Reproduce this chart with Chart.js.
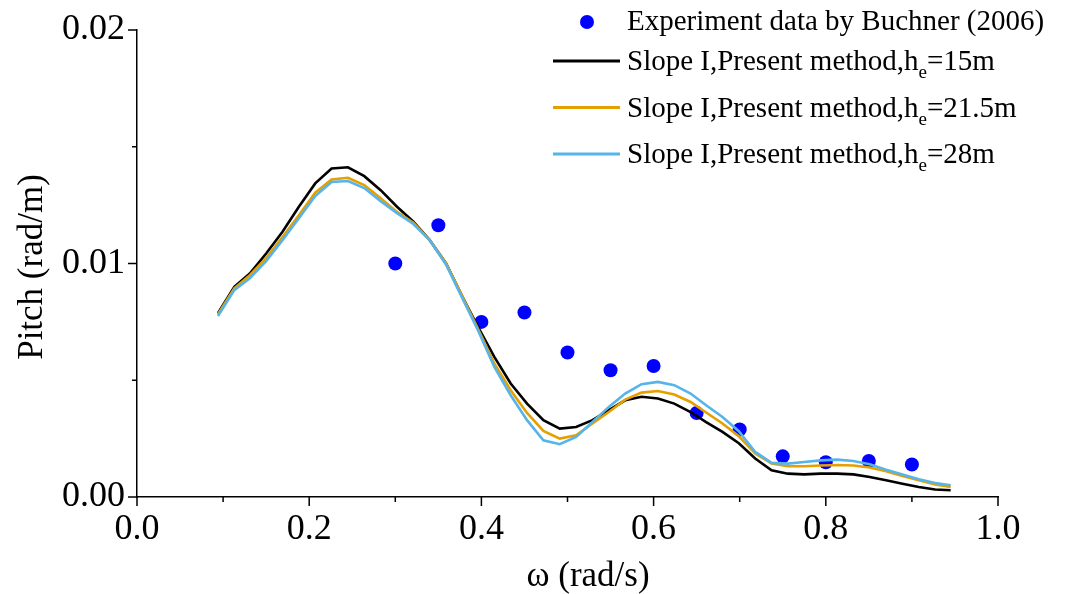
<!DOCTYPE html>
<html>
<head>
<meta charset="utf-8">
<script src="https://cdn.jsdelivr.net/npm/chart.js@4.4.0/dist/chart.umd.min.js"></script>
<style>
  body { margin: 0; background: #fff; }
  #wrap { width: 1075px; height: 594px; }
</style>
</head>
<body>
<div id="wrap"><canvas id="chart" width="1075" height="594"></canvas></div>
<script>
// --- DATA ---
const omega = [0.094, 0.113, 0.131, 0.150, 0.169, 0.188, 0.207, 0.226, 0.245, 0.264,
               0.283, 0.302, 0.321, 0.340, 0.359, 0.378, 0.396, 0.415, 0.434, 0.453,
               0.472, 0.491, 0.510, 0.529, 0.548, 0.567, 0.586, 0.605, 0.624, 0.643,
               0.661, 0.680, 0.699, 0.718, 0.737, 0.756, 0.775, 0.794, 0.813, 0.832,
               0.851, 0.870, 0.889, 0.908, 0.927, 0.945];

const pitchHe15 = [0.00787, 0.00900, 0.00957, 0.01043, 0.01136, 0.01243, 0.01343, 0.01407, 0.01412, 0.01374,
                   0.01314, 0.01243, 0.01179, 0.01100, 0.01000, 0.00857, 0.00729, 0.00600, 0.00486, 0.00400,
                   0.00329, 0.00293, 0.00300, 0.00329, 0.00372, 0.00414, 0.00429, 0.00422, 0.00400, 0.00364,
                   0.00321, 0.00279, 0.00230, 0.00165, 0.00114, 0.00100, 0.00097, 0.00100, 0.00100, 0.00097,
                   0.00086, 0.00072, 0.00057, 0.00043, 0.00032, 0.00029];

const pitchHe215 = [0.00783, 0.00894, 0.00950, 0.01023, 0.01113, 0.01207, 0.01303, 0.01360, 0.01367, 0.01336,
                    0.01279, 0.01221, 0.01174, 0.01100, 0.01000, 0.00857, 0.00720, 0.00572, 0.00457, 0.00360,
                    0.00283, 0.00250, 0.00264, 0.00315, 0.00364, 0.00417, 0.00447, 0.00454, 0.00439, 0.00407,
                    0.00362, 0.00315, 0.00260, 0.00186, 0.00143, 0.00132, 0.00132, 0.00135, 0.00137, 0.00135,
                    0.00126, 0.00110, 0.00090, 0.00072, 0.00054, 0.00043];

const pitchHe28 = [0.00775, 0.00886, 0.00937, 0.01010, 0.01100, 0.01194, 0.01289, 0.01349, 0.01353, 0.01323,
                   0.01267, 0.01216, 0.01169, 0.01100, 0.00995, 0.00850, 0.00714, 0.00557, 0.00436, 0.00329,
                   0.00243, 0.00226, 0.00257, 0.00321, 0.00386, 0.00443, 0.00483, 0.00493, 0.00479, 0.00443,
                   0.00393, 0.00343, 0.00282, 0.00193, 0.00146, 0.00143, 0.00150, 0.00157, 0.00160, 0.00154,
                   0.00140, 0.00117, 0.00096, 0.00076, 0.00060, 0.00050];

const expOmega = [0.30, 0.35, 0.40, 0.45, 0.50, 0.55, 0.60, 0.65, 0.70, 0.75, 0.80, 0.85, 0.90];
const expPitch = [0.01000, 0.01164, 0.00750, 0.00790, 0.00619, 0.00543, 0.00561, 0.00360, 0.00289, 0.00174, 0.00149, 0.00154, 0.00139];

const xMajorTicks = [0, 0.2, 0.4, 0.6, 0.8, 1.0];
const xMinorTicks = [0.1, 0.3, 0.5, 0.7, 0.9];
const yMajorTicks = [0, 0.01, 0.02];
const yMinorTicks = [0.005, 0.015];

const FONT = '"Liberation Serif", "Times New Roman", serif';

function toPoints(xs, ys) {
    return xs.map((x, i) => ({ x: x, y: ys[i] }));
}

// --- custom drawing: tick marks, axis titles, legend ---
const decorPlugin = {
    id: 'decor',
    afterDraw(chart) {
        const ctx = chart.ctx;
        const xs = chart.scales.x, ys = chart.scales.y;
        ctx.save();
        ctx.strokeStyle = '#000';
        ctx.lineWidth = 1.5;
        ctx.beginPath();
        xMajorTicks.forEach(v => { const p = xs.getPixelForValue(v); ctx.moveTo(p, xs.top); ctx.lineTo(p, xs.top + 9); });
        xMinorTicks.forEach(v => { const p = xs.getPixelForValue(v); ctx.moveTo(p, xs.top); ctx.lineTo(p, xs.top + 5); });
        yMajorTicks.forEach(v => { const p = ys.getPixelForValue(v); ctx.moveTo(ys.right, p); ctx.lineTo(ys.right - 9, p); });
        yMinorTicks.forEach(v => { const p = ys.getPixelForValue(v); ctx.moveTo(ys.right, p); ctx.lineTo(ys.right - 5, p); });
        ctx.stroke();

        // axis titles
        ctx.fillStyle = '#000';
        ctx.font = '35px ' + FONT;
        ctx.textAlign = 'center';
        ctx.textBaseline = 'alphabetic';
        ctx.fillText('\u03c9 (rad/s)', 588, 586);
        ctx.translate(42, 267);
        ctx.rotate(-Math.PI / 2);
        ctx.fillText('Pitch (rad/m)', 0, 0);
        ctx.restore();

        drawLegend(chart);
    }
};

function drawLegend(chart) {
    const ctx = chart.ctx;
    const ds = chart.data.datasets;
    const textX = 627;
    ctx.save();
    ctx.textAlign = 'left';
    ctx.textBaseline = 'alphabetic';
    ctx.fillStyle = '#000';

    // scatter entry
    ctx.beginPath();
    ctx.arc(587, 22, 7, 0, Math.PI * 2);
    ctx.fillStyle = ds[0].backgroundColor;
    ctx.fill();
    ctx.fillStyle = '#000';
    ctx.font = '29px ' + FONT;
    ctx.fillText(ds[0].label, textX, 30);

    const rowsY = [61, 107.5, 154];
    for (let i = 1; i < ds.length; i++) {
        const y = rowsY[i - 1];
        ctx.strokeStyle = ds[i].borderColor;
        ctx.lineWidth = 3;
        ctx.beginPath();
        ctx.moveTo(553, y);
        ctx.lineTo(620, y);
        ctx.stroke();

        // label with subscript after '_'
        const parts = ds[i].label.split('_');
        let x = textX;
        const base = y + 9;
        ctx.font = '29px ' + FONT;
        ctx.fillText(parts[0], x, base);
        x += ctx.measureText(parts[0]).width;
        ctx.font = '19px ' + FONT;
        ctx.fillText(parts[1][0], x, base + 8);
        x += ctx.measureText(parts[1][0]).width;
        ctx.font = '29px ' + FONT;
        ctx.fillText(parts[1].slice(1), x, base);
    }
    ctx.restore();
}

const ctx = document.getElementById('chart').getContext('2d');
new Chart(ctx, {
    type: 'scatter',
    data: {
        datasets: [
            {
                label: 'Experiment data by Buchner (2006)',
                data: toPoints(expOmega, expPitch),
                backgroundColor: '#0000ff',
                borderWidth: 0,
                pointRadius: 7,
                showLine: false,
                order: 3
            },
            {
                label: 'Slope I,Present method,h_e=15m',
                data: toPoints(omega, pitchHe15),
                borderColor: '#000000',
                borderWidth: 2.6,
                pointRadius: 0,
                showLine: true,
                order: 2
            },
            {
                label: 'Slope I,Present method,h_e=21.5m',
                data: toPoints(omega, pitchHe215),
                borderColor: '#e69f00',
                borderWidth: 2.6,
                pointRadius: 0,
                showLine: true,
                order: 1
            },
            {
                label: 'Slope I,Present method,h_e=28m',
                data: toPoints(omega, pitchHe28),
                borderColor: '#56b4e9',
                borderWidth: 2.6,
                pointRadius: 0,
                showLine: true,
                order: 0
            }
        ]
    },
    options: {
        responsive: false,
        animation: false,
        layout: { padding: { top: 30, right: 77, left: 0, bottom: 0 } },
        plugins: {
            legend: { display: false },
            tooltip: { enabled: false }
        },
        scales: {
            x: {
                type: 'linear',
                min: 0,
                max: 1,
                afterFit: s => { s.height = 97; s.paddingLeft = 0; s.paddingRight = 0; },
                afterBuildTicks: s => { s.ticks = xMajorTicks.map(v => ({ value: v })); },
                grid: { display: true, drawOnChartArea: false, drawTicks: false },
                border: { display: true, color: '#000', width: 1.5 },
                ticks: {
                    color: '#000',
                    padding: 11,
                    maxRotation: 0,
                    font: { family: FONT, size: 36 },
                    callback: v => Number(v).toFixed(1)
                }
            },
            y: {
                type: 'linear',
                min: 0,
                max: 0.02,
                afterFit: s => { s.width = 137; s.paddingTop = 0; s.paddingBottom = 0; },
                afterBuildTicks: s => { s.ticks = yMajorTicks.map(v => ({ value: v })); },
                grid: { display: true, drawOnChartArea: false, drawTicks: false },
                border: { display: true, color: '#000', width: 1.5 },
                ticks: {
                    color: '#000',
                    padding: 12,
                    font: { family: FONT, size: 36 },
                    callback: v => Number(v).toFixed(2)
                }
            }
        }
    },
    plugins: [decorPlugin]
});
</script>
</body>
</html>
